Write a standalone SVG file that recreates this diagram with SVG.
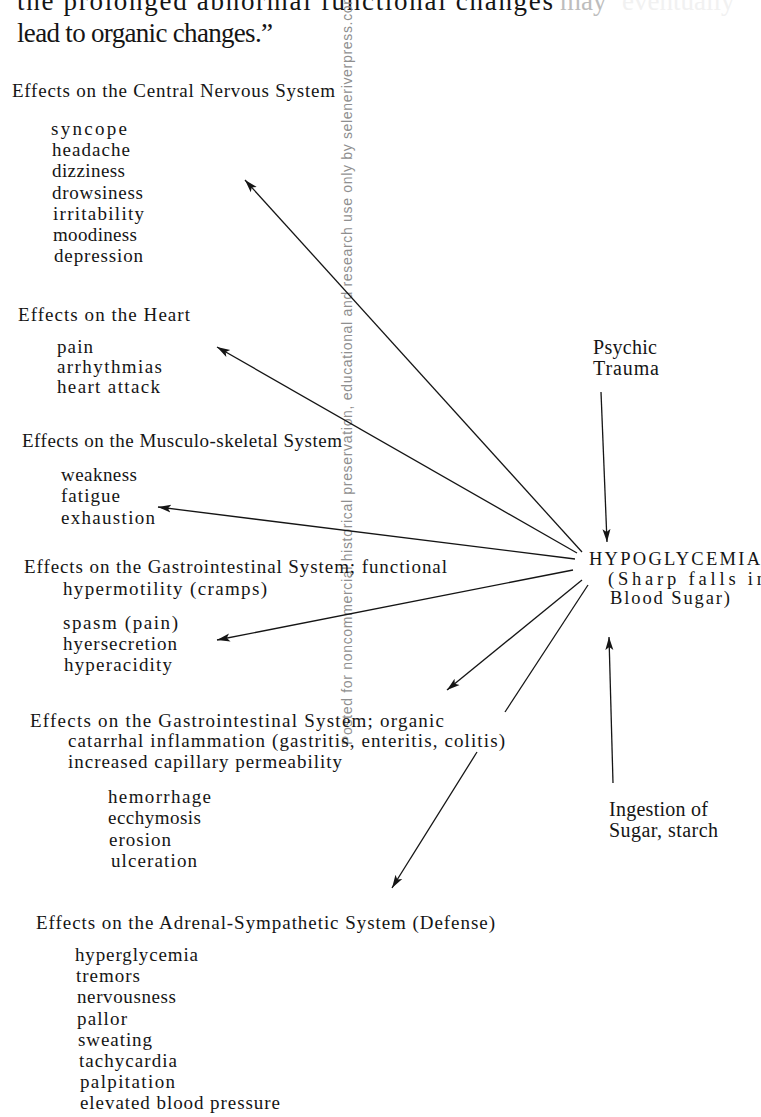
<svg xmlns="http://www.w3.org/2000/svg" width="761" height="1117" viewBox="0 0 761 1117">
<style>
.t{font-family:"Liberation Serif","Times New Roman",serif;font-size:19px;fill:#151515}
.top{font-family:"Liberation Serif","Times New Roman",serif;font-size:27px;fill:#151515}
.hub{font-family:"Liberation Serif","Times New Roman",serif;font-size:20px;fill:#151515}
.hb{font-family:"Liberation Serif","Times New Roman",serif;font-size:18.5px;fill:#151515}
.wm{font-family:"Liberation Sans",Arial,sans-serif;font-size:14px;fill:#8f8f8f}
.c{stroke:#151515;stroke-width:1.3;fill:none}
.a{marker-end:url(#ah)}
</style>
<defs>
<marker id="ah" markerUnits="userSpaceOnUse" markerWidth="14" markerHeight="10" refX="13" refY="4.5" orient="auto">
<path d="M0,0.5 L13,4.5 L0,8.5 L3,4.5 Z" fill="#151515"/>
</marker>
</defs>
<rect width="761" height="1117" fill="#ffffff"/>

<g id="intro-text">
<text class="top" x="17" y="10"><tspan textLength="536" lengthAdjust="spacing">the prolonged abnormal functional changes</tspan><tspan x="560" fill="#bdbdbd">may</tspan><tspan x="622" fill="#f1f1f1">eventually</tspan></text>
<text class="top" x="17" y="42" textLength="256" lengthAdjust="spacing">lead to organic changes.”</text>
</g>

<g id="watermark">
<text class="wm" transform="translate(352,745) rotate(-90)" x="0" y="0" textLength="752" lengthAdjust="spacing">Posted for noncommercial historical preservation, educational and research use only by seleneriverpress.com</text>
</g>

<g id="cns">
<text class="t" x="12" y="97" textLength="323" lengthAdjust="spacing">Effects on the Central Nervous System</text>
<text class="t" x="51" y="135" textLength="76" lengthAdjust="spacing">syncope</text>
<text class="t" x="52" y="156" textLength="78" lengthAdjust="spacing">headache</text>
<text class="t" x="52" y="177" textLength="73" lengthAdjust="spacing">dizziness</text>
<text class="t" x="52" y="199" textLength="91" lengthAdjust="spacing">drowsiness</text>
<text class="t" x="53" y="220" textLength="91" lengthAdjust="spacing">irritability</text>
<text class="t" x="53" y="241" textLength="84" lengthAdjust="spacing">moodiness</text>
<text class="t" x="54" y="262" textLength="89" lengthAdjust="spacing">depression</text>
</g>

<g id="heart">
<text class="t" x="18" y="321" textLength="172" lengthAdjust="spacing">Effects on the Heart</text>
<text class="t" x="57" y="353" textLength="36" lengthAdjust="spacing">pain</text>
<text class="t" x="57" y="373" textLength="105" lengthAdjust="spacing">arrhythmias</text>
<text class="t" x="57" y="393" textLength="103" lengthAdjust="spacing">heart attack</text>
</g>

<g id="musculo">
<text class="t" x="22" y="447" textLength="320" lengthAdjust="spacing">Effects on the Musculo-skeletal System</text>
<text class="t" x="61" y="481" textLength="76" lengthAdjust="spacing">weakness</text>
<text class="t" x="61" y="502" textLength="59" lengthAdjust="spacing">fatigue</text>
<text class="t" x="61" y="524" textLength="94" lengthAdjust="spacing">exhaustion</text>
</g>

<g id="gi-functional">
<text class="t" x="24" y="573" textLength="423" lengthAdjust="spacing">Effects on the Gastrointestinal System; functional</text>
<text class="t" x="63" y="595" textLength="204" lengthAdjust="spacing">hypermotility (cramps)</text>
<text class="t" x="63" y="629" textLength="115" lengthAdjust="spacing">spasm (pain)</text>
<text class="t" x="63" y="650" textLength="114" lengthAdjust="spacing">hyersecretion</text>
<text class="t" x="64" y="671" textLength="108" lengthAdjust="spacing">hyperacidity</text>
</g>

<g id="gi-organic">
<text class="t" x="30" y="727" textLength="414" lengthAdjust="spacing">Effects on the Gastrointestinal System; organic</text>
<text class="t" x="68" y="747" textLength="437" lengthAdjust="spacing">catarrhal inflammation (gastritis, enteritis, colitis)</text>
<text class="t" x="68" y="768" textLength="274" lengthAdjust="spacing">increased capillary permeability</text>
<text class="t" x="108" y="803" textLength="103" lengthAdjust="spacing">hemorrhage</text>
<text class="t" x="108" y="824" textLength="93" lengthAdjust="spacing">ecchymosis</text>
<text class="t" x="109" y="846" textLength="62" lengthAdjust="spacing">erosion</text>
<text class="t" x="111" y="867" textLength="86" lengthAdjust="spacing">ulceration</text>
</g>

<g id="adrenal">
<text class="t" x="36" y="929" textLength="459" lengthAdjust="spacing">Effects on the Adrenal-Sympathetic System (Defense)</text>
<text class="t" x="75" y="961" textLength="123" lengthAdjust="spacing">hyperglycemia</text>
<text class="t" x="76" y="982" textLength="64" lengthAdjust="spacing">tremors</text>
<text class="t" x="77" y="1003" textLength="99" lengthAdjust="spacing">nervousness</text>
<text class="t" x="77" y="1025" textLength="50" lengthAdjust="spacing">pallor</text>
<text class="t" x="78" y="1046" textLength="74" lengthAdjust="spacing">sweating</text>
<text class="t" x="79" y="1067" textLength="98" lengthAdjust="spacing">tachycardia</text>
<text class="t" x="80" y="1088" textLength="95" lengthAdjust="spacing">palpitation</text>
<text class="t" x="80" y="1109" textLength="200" lengthAdjust="spacing">elevated blood pressure</text>
</g>

<g id="psychic-trauma">
<text class="hub" x="593" y="354" textLength="64" lengthAdjust="spacing">Psychic</text>
<text class="hub" x="593" y="375" textLength="66" lengthAdjust="spacing">Trauma</text>
</g>

<g id="hypoglycemia">
<text class="hb" x="589" y="565" textLength="171" lengthAdjust="spacing">HYPOGLYCEMIA</text>
<text class="hb" x="608" y="585" textLength="158" lengthAdjust="spacing">(Sharp falls in</text>
<text class="hb" x="610" y="604" textLength="120" lengthAdjust="spacing">Blood Sugar)</text>
</g>

<g id="ingestion">
<text class="hub" x="609" y="816" textLength="99" lengthAdjust="spacing">Ingestion of</text>
<text class="hub" x="609" y="837" textLength="109" lengthAdjust="spacing">Sugar, starch</text>
</g>

<g id="connectors">
<line class="c a" x1="582" y1="552" x2="245" y2="180"/>
<line class="c a" x1="577" y1="553" x2="217" y2="347"/>
<line class="c a" x1="575" y1="559" x2="158" y2="507"/>
<line class="c a" x1="573" y1="570" x2="217" y2="640"/>
<line class="c a" x1="582" y1="580" x2="447" y2="690"/>
<line class="c" x1="588" y1="585" x2="505" y2="712"/>
<line class="c a" x1="477" y1="752" x2="392" y2="888"/>
<line class="c a" x1="601" y1="392" x2="607" y2="542"/>
<line class="c a" x1="613" y1="783" x2="609" y2="637"/>
</g>
</svg>
